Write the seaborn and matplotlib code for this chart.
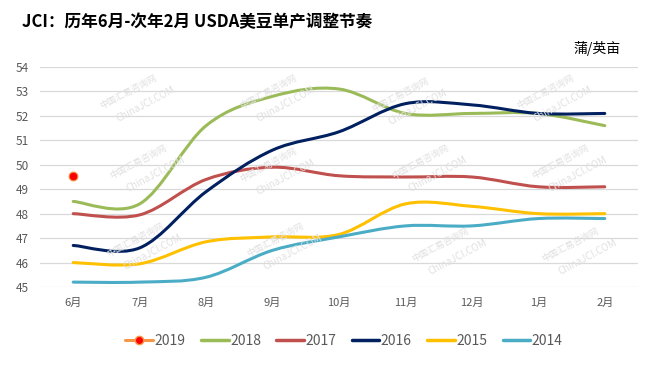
import matplotlib
matplotlib.use('Agg')
import matplotlib.pyplot as plt
import seaborn as sns
import pandas as pd
from matplotlib.path import Path
from matplotlib.patches import PathPatch
from matplotlib.lines import Line2D

# 数据
months = ['6月', '7月', '8月', '9月', '10月', '11月', '12月', '1月', '2月']
y2019 = [49.55]
y2018 = [48.5, 48.4, 51.6, 52.8, 53.1, 52.1, 52.1, 52.1, 51.6]
y2017 = [48.0, 47.95, 49.4, 49.9, 49.55, 49.5, 49.5, 49.1, 49.1]
y2016 = [46.7, 46.6, 48.9, 50.6, 51.35, 52.5, 52.45, 52.1, 52.1]
y2015 = [46.0, 45.95, 46.85, 47.05, 47.15, 48.4, 48.3, 48.0, 48.0]
y2014 = [45.2, 45.2, 45.4, 46.5, 47.05, 47.5, 47.5, 47.8, 47.8]

years = ['2019', '2018', '2017', '2016', '2015', '2014']
colors = ['#F79646', '#9BBB59', '#C0504D', '#002060', '#FFC000', '#4BACC6']

sns.set_theme(style='white')
plt.rcParams['font.family'] = ['Noto Sans CJK SC', 'DejaVu Sans']
plt.rcParams['axes.unicode_minus'] = False


def smooth_path(xs, ys):
    """Excel风格的平滑曲线（贝塞尔控制点）"""
    pts = list(zip(xs, ys))
    n = len(pts)
    verts = [pts[0]]
    codes = [Path.MOVETO]
    for i in range(n - 1):
        p0 = pts[max(i - 1, 0)]
        p1 = pts[i]
        p2 = pts[i + 1]
        p3 = pts[min(i + 2, n - 1)]
        c1 = (p1[0] + (p2[0] - p0[0]) / 6, p1[1] + (p2[1] - p0[1]) / 6)
        c2 = (p2[0] - (p3[0] - p1[0]) / 6, p2[1] - (p3[1] - p1[1]) / 6)
        verts += [c1, c2, p2]
        codes += [Path.CURVE4] * 3
    return Path(verts, codes)


fig = plt.figure(figsize=(6.54, 3.66), dpi=100)
ax = fig.add_axes([40 / 654, 1 - 287 / 366, 598 / 654, 220 / 366])

# 水印
wm_pos = [(128, 92), (268, 92), (400, 95), (545, 92),
          (138, 162), (268, 165), (420, 162), (560, 162),
          (135, 240), (275, 240), (440, 245), (570, 245)]
for px, py in wm_pos:
    fig.text(px / 654, 1 - py / 366, '中国汇易咨询网', rotation=28, color='#e0e0e0',
             fontsize=6.5, ha='center', va='center', zorder=0)
    fig.text((px + 18) / 654, 1 - (py + 12) / 366, 'ChinaJCI.COM', rotation=28,
             color='#e0e0e0', fontsize=7, ha='center', va='center', zorder=0)

x = list(range(len(months)))
series = [y2018, y2017, y2016, y2015, y2014]
for vals, c in zip(series, colors[1:]):
    ax.add_patch(PathPatch(smooth_path(x, vals), fill=False, edgecolor=c,
                           lw=2.2, capstyle='round', zorder=3))

df19 = pd.DataFrame({'x': x[:len(y2019)], 'y': y2019})
sns.scatterplot(data=df19, x='x', y='y', ax=ax, color='#FF0000', s=40,
                edgecolor='#F79646', linewidth=0.8, zorder=4)

ax.set_xlim(-0.5, 8.5)
ax.set_ylim(45, 54)
ax.set_yticks(range(45, 55))
ax.set_xticks(x)
ax.set_xticklabels(months)
ax.set_xlabel('')
ax.set_ylabel('')
ax.grid(axis='y', color='#d9d9d9', lw=0.9)
ax.set_axisbelow(True)
for s in ax.spines.values():
    s.set_visible(False)
ax.tick_params(axis='y', colors='#595959', labelsize=8.5, length=0, pad=8)
ax.tick_params(axis='x', colors='#595959', labelsize=8, length=0, pad=8)
ax.patch.set_alpha(0)

fig.text(22 / 654, 1 - 22 / 366, 'JCI：历年6月-次年2月 USDA美豆单产调整节奏',
         fontsize=12, fontweight='bold', ha='left', va='center', color='#000000')
fig.text(621 / 654, 1 - 48 / 366, '蒲/英亩', fontsize=10, ha='right',
         va='center', color='#000000')

handles = [Line2D([], [], color=colors[0], lw=2.2, marker='o', markersize=6,
                  markerfacecolor='#FF0000', markeredgecolor='#F79646')]
handles += [Line2D([], [], color=c, lw=2.5) for c in colors[1:]]
leg = fig.legend(handles, years, loc='center', bbox_to_anchor=(344 / 654, 1 - 341 / 366),
                 ncol=6, frameon=False, fontsize=10, handlelength=2.0,
                 columnspacing=1.1, handletextpad=0.1)
for t in leg.get_texts():
    t.set_color('#595959')

fig.savefig('out.png', dpi=100)
